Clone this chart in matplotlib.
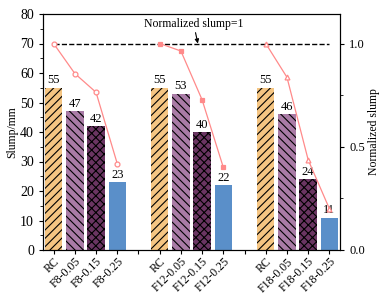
import numpy as np
import matplotlib
matplotlib.use('Agg')
import matplotlib.pyplot as plt

plt.rcParams['font.family'] = ['Liberation Serif', 'DejaVu Serif']
plt.rcParams['hatch.linewidth'] = 0.8

# data
groups = ['F8', 'F12', 'F18']
levels = ['0.05', '0.15', '0.25']
slump = [[55, 47, 42, 23],
         [55, 53, 40, 22],
         [55, 46, 24, 11]]
markers = ['o', 's', '^']
fills = ['none', 'full', 'none']

colors = ['#F5C582', '#A97BA6', '#6A3562', '#5A8FC9']
hatches = ['////', '\\\\\\\\', 'xxxx', None]

fig = plt.figure(figsize=(3.86, 2.95), dpi=100)
ax = fig.add_axes([43/386, 1-250/295, 297/386, 236/295])
ax2 = ax.twinx()

ticks = []
labels = []
for g, name in enumerate(groups):
    xs = np.arange(4) + g*5
    vals = slump[g]
    for i in range(4):
        ax.bar(xs[i], vals[i], width=0.82, color=colors[i],
               hatch=hatches[i], edgecolor='black', linewidth=0)
        ax.text(xs[i], vals[i] + 0.5, str(vals[i]), ha='center', va='bottom', fontsize=9)
    norm = np.array(vals) / vals[0]
    mfc = '#FF8A8A' if fills[g] == 'full' else 'white'
    ax2.plot(xs, norm, color='#FF8A8A', lw=0.9, marker=markers[g], ms=3.5,
             mfc=mfc, mec='#FF8A8A', mew=0.9, zorder=5)
    lbls = ['RC'] + [name + '-' + l for l in levels]
    ticks += list(xs)
    labels += lbls

ax2.plot([0, 13], [1, 1], 'k--', lw=1)
ax2.annotate('Normalized slump=1', xy=(6.8, 1.0), xytext=(6.6, 1.095),
             ha='center', va='center', fontsize=8.5,
             arrowprops=dict(arrowstyle='-|>', color='black', lw=0.8, mutation_scale=6,
                             shrinkA=0, shrinkB=0))

ax.set_xlim(-0.5, 13.5)
ax.set_ylim(0, 80)
ax2.set_ylim(0, 80/70)
ax.set_xticks(np.arange(14), minor=False)
ax.set_xticklabels(['' if i not in ticks else labels[ticks.index(i)] for i in range(14)],
                   rotation=45, ha='right', rotation_mode='anchor', fontsize=8.5)
ax.set_yticks(np.arange(0, 81, 10))
ax.set_yticks(np.arange(0, 81, 5), minor=True)
ax2.set_yticks([0, 0.5, 1.0])
ax2.set_yticks([0.25, 0.75], minor=True)
ax2.set_yticklabels(['0.0', '0.5', '1.0'])
ax.tick_params(axis='y', labelsize=10, direction='out', length=3)
ax.tick_params(axis='y', which='minor', length=2)
ax.tick_params(axis='x', direction='out', length=3, pad=1)
ax2.tick_params(axis='y', labelsize=9, direction='out', length=3)
ax2.tick_params(axis='y', which='minor', length=2)
ax.set_ylabel('Slump/mm', fontsize=8.5, labelpad=1)
ax2.set_ylabel('Normalized slump', fontsize=8.5, labelpad=2)

fig.savefig('out.png', dpi=100)
